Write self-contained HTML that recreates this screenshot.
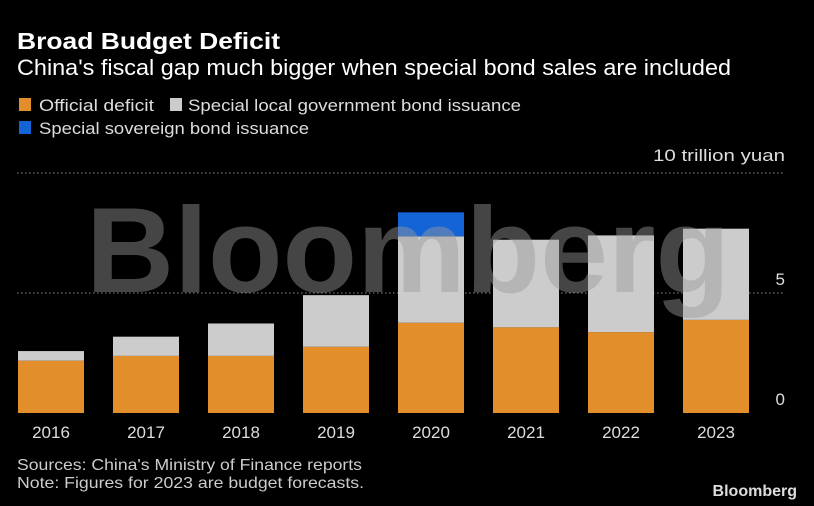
<!DOCTYPE html>
<html><head><meta charset="utf-8"><style>
body{margin:0;background:#000;width:814px;height:506px;overflow:hidden;font-family:"Liberation Sans",sans-serif;color:#fff}
</style></head><body>
<svg width="814" height="506" style="position:absolute;left:0;top:0">
<text x="17" y="49" font-size="23" font-weight="bold" fill="#fff" textLength="263" lengthAdjust="spacingAndGlyphs">Broad Budget Deficit</text>
<text x="17" y="75" font-size="22" fill="#fff" textLength="714" lengthAdjust="spacingAndGlyphs">China's fiscal gap much bigger when special bond sales are included</text>
<g>
<rect x="19" y="98" width="12" height="13" fill="#e28e2a"/>
<text x="39" y="111" font-size="17" fill="#ddd" textLength="115" lengthAdjust="spacingAndGlyphs">Official deficit</text>
<rect x="170" y="98" width="12" height="13" fill="#ccc"/>
<text x="188" y="111" font-size="17" fill="#ddd" textLength="333" lengthAdjust="spacingAndGlyphs">Special local government bond issuance</text>
<rect x="19" y="121" width="12" height="13" fill="#1464d8"/>
<text x="39" y="134" font-size="17" fill="#ddd" textLength="270" lengthAdjust="spacingAndGlyphs">Special sovereign bond issuance</text>
</g>
<text x="653" y="161" font-size="17" fill="#ddd" textLength="132" lengthAdjust="spacingAndGlyphs">10 trillion yuan</text>
<g id="grid"></g>
<g id="bars"></g>
<text x="86" y="292" font-size="122" font-weight="bold" fill="#9a9a9a" opacity="0.45" textLength="644" lengthAdjust="spacingAndGlyphs">Bloomberg</text>
<g id="xlabels"></g>
<text x="17" y="470" font-size="16" fill="#ccc" textLength="345" lengthAdjust="spacingAndGlyphs">Sources: China's Ministry of Finance reports</text>
<text x="17" y="488" font-size="16" fill="#ccc" textLength="347" lengthAdjust="spacingAndGlyphs">Note: Figures for 2023 are budget forecasts.</text>
<text x="797" y="496" font-size="16" font-weight="bold" fill="#ddd" text-anchor="end">Bloomberg</text>
</svg>
<script>
const years=["2016","2017","2018","2019","2020","2021","2022","2023"];
const official=[2.18,2.38,2.38,2.76,3.76,3.57,3.37,3.88];
const localBond=[0.4,0.8,1.35,2.15,3.6,3.65,4.03,3.8];
const sovereign=[0,0,0,0,1.0,0,0,0];
const ticks=[0,5,10];
const NS="http://www.w3.org/2000/svg";
const y0=413,pxPer=24,x0=18,step=95,bw=66;
const y=v=>y0-v*pxPer;
const xb=i=>x0+i*step;
const grid=document.getElementById('grid'),bars=document.getElementById('bars'),xl=document.getElementById('xlabels');
function mk(t,a,p){const e=document.createElementNS(NS,t);for(const k in a)e.setAttribute(k,a[k]);p.appendChild(e);return e;}
ticks.forEach(t=>{
 if(t>0){const l=mk('line',{x1:17,x2:783,y1:y(t),y2:y(t),stroke:'#888','stroke-dasharray':'1.5,2.5'},grid);
 
 }
 if(t<10){const tx=mk('text',{x:785,y:y(t)-8,'font-size':17,fill:'#ddd','text-anchor':'end'},grid);tx.textContent=t;
 
 }
});
years.forEach((yr,i)=>{
 let b=0;
 [[official,'#e28e2a','official'],[localBond,'#cccccc','local'],[sovereign,'#1464d8','sovereign']].forEach(([arr,c,n])=>{
  const v=arr[i];if(v<=0)return;
  const r=mk('rect',{x:xb(i),y:y(b+v),width:bw,height:v*pxPer,fill:c},bars);
  
  
  b+=v;});
 const t=mk('text',{x:xb(i)+bw/2,y:438,'font-size':17,fill:'#ddd','text-anchor':'middle'},xl);t.textContent=yr;
 
 
});
</script>
</body></html>
